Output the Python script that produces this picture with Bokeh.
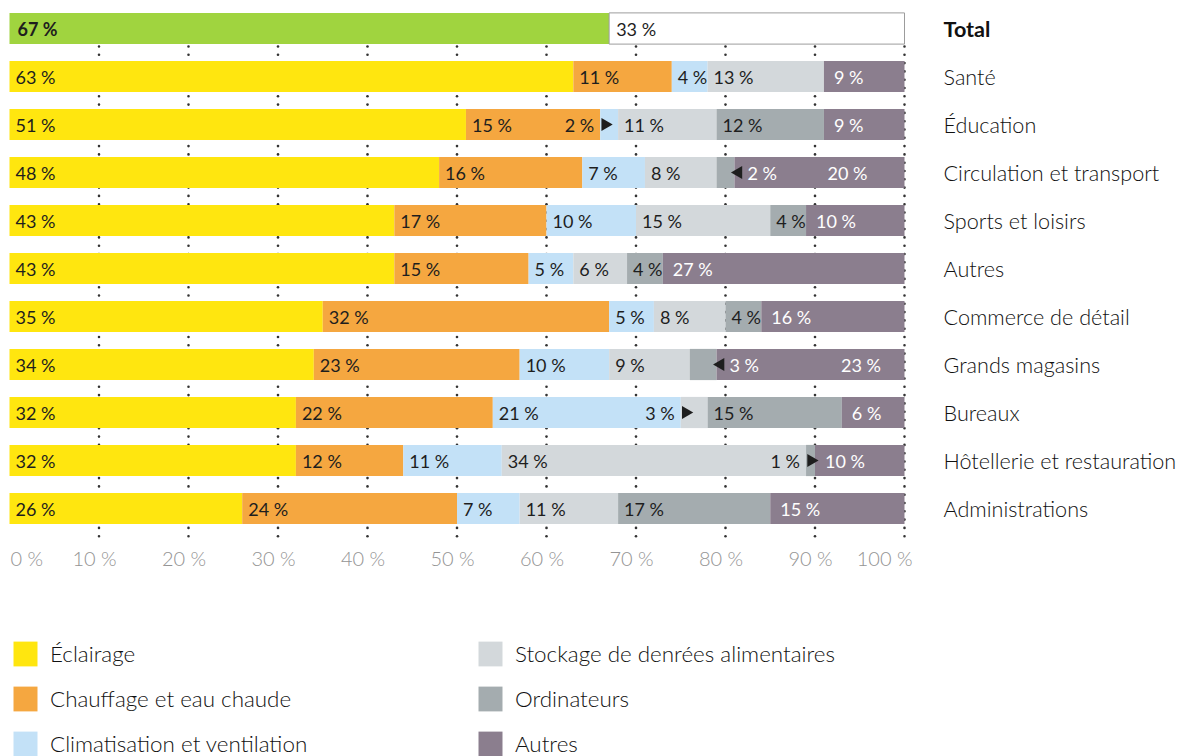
import numpy as np
from bokeh.plotting import figure
from bokeh.models import ColumnDataSource, Range1d, Legend, LegendItem
from bokeh.core.properties import value
from bokeh.embed import file_html
from bokeh.resources import INLINE

# ---------------- data ----------------
categories = ["Total", "Santé", "Éducation", "Circulation et transport",
              "Sports et loisirs", "Autres", "Commerce de détail",
              "Grands magasins", "Bureaux", "Hôtellerie et restauration",
              "Administrations"]
series_names = ["Éclairage", "Chauffage et eau chaude",
                "Climatisation et ventilation",
                "Stockage de denrées alimentaires", "Ordinateurs", "Autres"]
eclairage     = [63, 51, 48, 43, 43, 35, 34, 32, 32, 26]
chauffage     = [11, 15, 16, 17, 15, 32, 23, 22, 12, 24]
climatisation = [4, 2, 7, 10, 5, 5, 10, 21, 11, 7]
stockage      = [13, 11, 8, 15, 6, 8, 9, 3, 34, 11]
ordinateurs   = [0, 12, 2, 4, 4, 4, 3, 15, 1, 17]
autres        = [9, 9, 20, 10, 27, 16, 23, 6, 10, 15]
total_values  = [67, 33]
tick_values   = [0, 10, 20, 30, 40, 50, 60, 70, 80, 90, 100]

# ---------------- style ----------------
FONT = "Lato"
LIGHT = "Lato Light"
DARK = "#1e1e1e"
colors = ["#FFE60F", "#F5A740", "#C3E1F7", "#D3D8DB", "#A4ACAF", "#8B7E8E"]
GREEN = "#A0D43F"
PX = 8.95      # pixels per percent
ROW = 48.0     # pixels per row
W, H = 1177, 756
X0, Y0 = 9, 28

ARROW_RIGHT = {(1, 2), (7, 3), (8, 4)}
ARROW_LEFT = {(2, 4), (6, 4)}
LABEL_AT = {(2, 5): 91.4, (6, 5): 92.9}

p = figure(width=W, height=H, output_backend="svg", toolbar_location=None,
           x_range=Range1d(-X0 / PX, (W - X0) / PX),
           y_range=Range1d((H - Y0) / ROW, -Y0 / ROW),
           x_axis_location=None, y_axis_location=None, min_border=0)
p.grid.visible = False
p.outline_line_color = None

# dotted grid (behind bars)
dot_y = np.arange(0.375, 10.74, 8.3 / ROW)
gx, gy = np.meshgrid(tick_values[1:], dot_y)
p.scatter(gx.ravel(), gy.ravel(), marker="circle", size=2.6,
          color="#333333", line_color=None)

# sector bars
seg_values = [eclairage, chauffage, climatisation, stockage, ordinateurs, autres]
n = len(eclairage)
first5 = np.sum(np.array(seg_values[:5]), axis=0)
fill_cols = {f"s{k}": list(seg_values[k]) for k in range(5)}
fill_cols["s5"] = list(100 - first5)
fill_cols["y"] = list(range(1, n + 1))
src = ColumnDataSource(fill_cols)
renderers = p.hbar_stack([f"s{k}" for k in range(6)], y="y", height=0.65,
                         color=colors, line_color=None, source=src)

# total bar
t_left = np.concatenate([[0], np.cumsum(total_values)[:-1]])
t_right = np.cumsum(total_values)
p.hbar(y=[0], left=[t_left[0]], right=[t_right[0]], height=0.65,
       fill_color=GREEN, line_color=None)
p.hbar(y=[0], left=[t_left[1]], right=[t_right[1]], height=0.65,
       fill_color="white", line_color="#9c9c9c", line_width=1)

# segment labels
L = dict(x=[], y=[], text=[], color=[])
R = dict(x=[], y=[], text=[], color=[])
AR = dict(x=[], y=[])
AL = dict(x=[], y=[])
for i in range(n):
    row = i + 1
    start = 0.0
    for k in range(6):
        v = seg_values[k][i]
        if v == 0:
            continue
        txt = f"{v} %"
        col = "white" if k == 5 else DARK
        if (i, k) in ARROW_RIGHT:
            R["x"].append(start - 6 / PX); R["y"].append(row)
            R["text"].append(txt); R["color"].append(DARK)
            AR["x"].append(start + 5 / PX); AR["y"].append(row)
        elif (i, k) in ARROW_LEFT:
            end = start + v
            L["x"].append(end + 13 / PX); L["y"].append(row)
            L["text"].append(txt); L["color"].append("white")
            AL["x"].append(end + 4 / PX); AL["y"].append(row)
        elif (i, k) in LABEL_AT:
            L["x"].append(LABEL_AT[(i, k)]); L["y"].append(row)
            L["text"].append(txt); L["color"].append(col)
        else:
            pad = (10 if k == 5 else 6) / PX
            L["x"].append(start + pad); L["y"].append(row)
            L["text"].append(txt); L["color"].append(col)
        start += v

common = dict(text_font=value(FONT), text_font_size="18px", text_baseline="middle")
p.text(x="x", y="y", text="text", text_color="color", text_align="left",
       source=ColumnDataSource(L), **common)
p.text(x="x", y="y", text="text", text_color="color", text_align="right",
       source=ColumnDataSource(R), **common)
p.scatter(x="x", y="y", source=ColumnDataSource(AR), marker="triangle",
          angle=-np.pi / 2, size=13, color=DARK, line_color=None)
p.scatter(x="x", y="y", source=ColumnDataSource(AL), marker="triangle",
          angle=np.pi / 2, size=13, color=DARK, line_color=None)

# total labels
p.text(x=[t_left[0] + 8 / PX], y=[0], text=[f"{total_values[0]} %"],
       text_color=DARK, text_font=value(FONT), text_font_style="bold",
       text_font_size="18px", text_baseline="middle")
p.text(x=[t_left[1] + 7 / PX], y=[0], text=[f"{total_values[1]} %"],
       text_color=DARK, **common)

# category labels
cat_common = dict(text_font_size="21.6px", text_baseline="middle",
                  text_align="left", text_color="#111111")
p.text(x=[104.36], y=[0], text=[categories[0]], text_font=value(FONT),
       text_font_style="bold", **cat_common)
p.text(x=[104.36] * n, y=list(range(1, n + 1)), text=categories[1:],
       text_font=value(LIGHT), **cat_common)

# tick labels
tick_txt = [f"{t} %" for t in tick_values]
tick_y = (557 - 28) / ROW
tk = dict(text_font=value(LIGHT), text_font_size="20px", text_baseline="middle",
          text_color="#949494")
p.text(x=[tick_values[0] + 1 / PX], y=[tick_y], text=[tick_txt[0]], text_align="left", **tk)
p.text(x=[t - 0.5 for t in tick_values[1:-1]], y=[tick_y] * (len(tick_values) - 2),
       text=tick_txt[1:-1], text_align="center", **tk)
p.text(x=[tick_values[-1] + 8 / PX], y=[tick_y], text=[tick_txt[-1]], text_align="right", **tk)

# legend
items = [LegendItem(label=nm, renderers=[r]) for nm, r in zip(series_names, renderers)]
legend = Legend(items=items, location=(10, -3), orientation="vertical", ncols=2,
                glyph_width=30, glyph_height=31, label_standoff=10, spacing=14,
                padding=0, margin=0, border_line_color=None,
                background_fill_alpha=0, label_text_font=LIGHT,
                label_text_font_size="22.4px", label_text_color="#111111",
                label_width=411, label_height=31)
p.add_layout(legend)

open("out.html", "w").write(file_html(p, INLINE))
